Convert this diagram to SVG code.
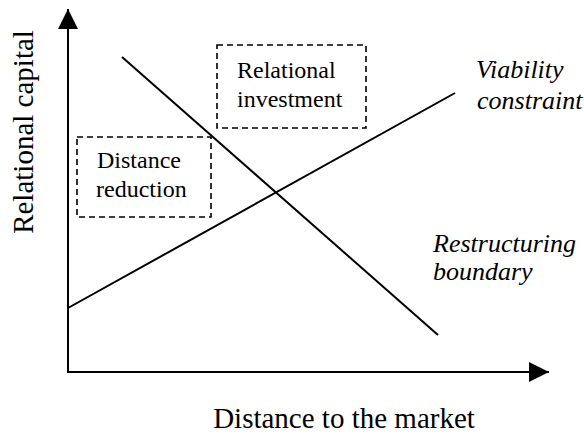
<svg xmlns="http://www.w3.org/2000/svg" width="584" height="434" viewBox="0 0 584 434">
<style>
.ln{stroke:#000;stroke-width:2;fill:none}
.box{stroke:#000;stroke-width:1.6;fill:#fff;stroke-dasharray:6 4}
.it{font-style:italic}
</style>
<defs>
<marker id="ah" viewBox="0 0 20 20" refX="20" refY="10" markerWidth="20" markerHeight="20" markerUnits="userSpaceOnUse" orient="auto">
<path d="M0,0 L20,10 L0,20 Z" fill="#000"/>
</marker>
</defs>
<g id="connectors">
<line class="ln" x1="68" y1="373" x2="68" y2="9" marker-end="url(#ah)"/>
<line class="ln" x1="67" y1="372" x2="549" y2="372" marker-end="url(#ah)"/>
<line class="ln" x1="122" y1="57" x2="438" y2="335"/>
<line class="ln" x1="68" y1="308" x2="455" y2="93"/>
</g>
<g font-family="Liberation Serif, Times New Roman, serif" fill="#000">
<g id="y-label"><text font-size="29" text-anchor="middle" transform="translate(33,132) rotate(-90)">Relational capital</text></g>
<g id="x-label"><text font-size="29" x="344" y="428" text-anchor="middle">Distance to the market</text></g>
<g id="distance-reduction">
<rect class="box" x="77" y="137" width="134" height="80"/>
<text font-size="24" x="97" y="168">Distance</text>
<text font-size="24" x="96" y="197">reduction</text>
</g>
<g id="relational-investment">
<rect class="box" x="217" y="45" width="149" height="83"/>
<text font-size="24" x="237" y="78">Relational</text>
<text font-size="24" x="237" y="107">investment</text>
</g>
<g id="viability-constraint">
<text class="it" font-size="26" x="476" y="78">Viability</text>
<text class="it" font-size="26" x="477" y="109">constraint</text>
</g>
<g id="restructuring-boundary">
<text class="it" font-size="26" x="433" y="252">Restructuring</text>
<text class="it" font-size="26" x="433" y="280">boundary</text>
</g>
</g>
</svg>
